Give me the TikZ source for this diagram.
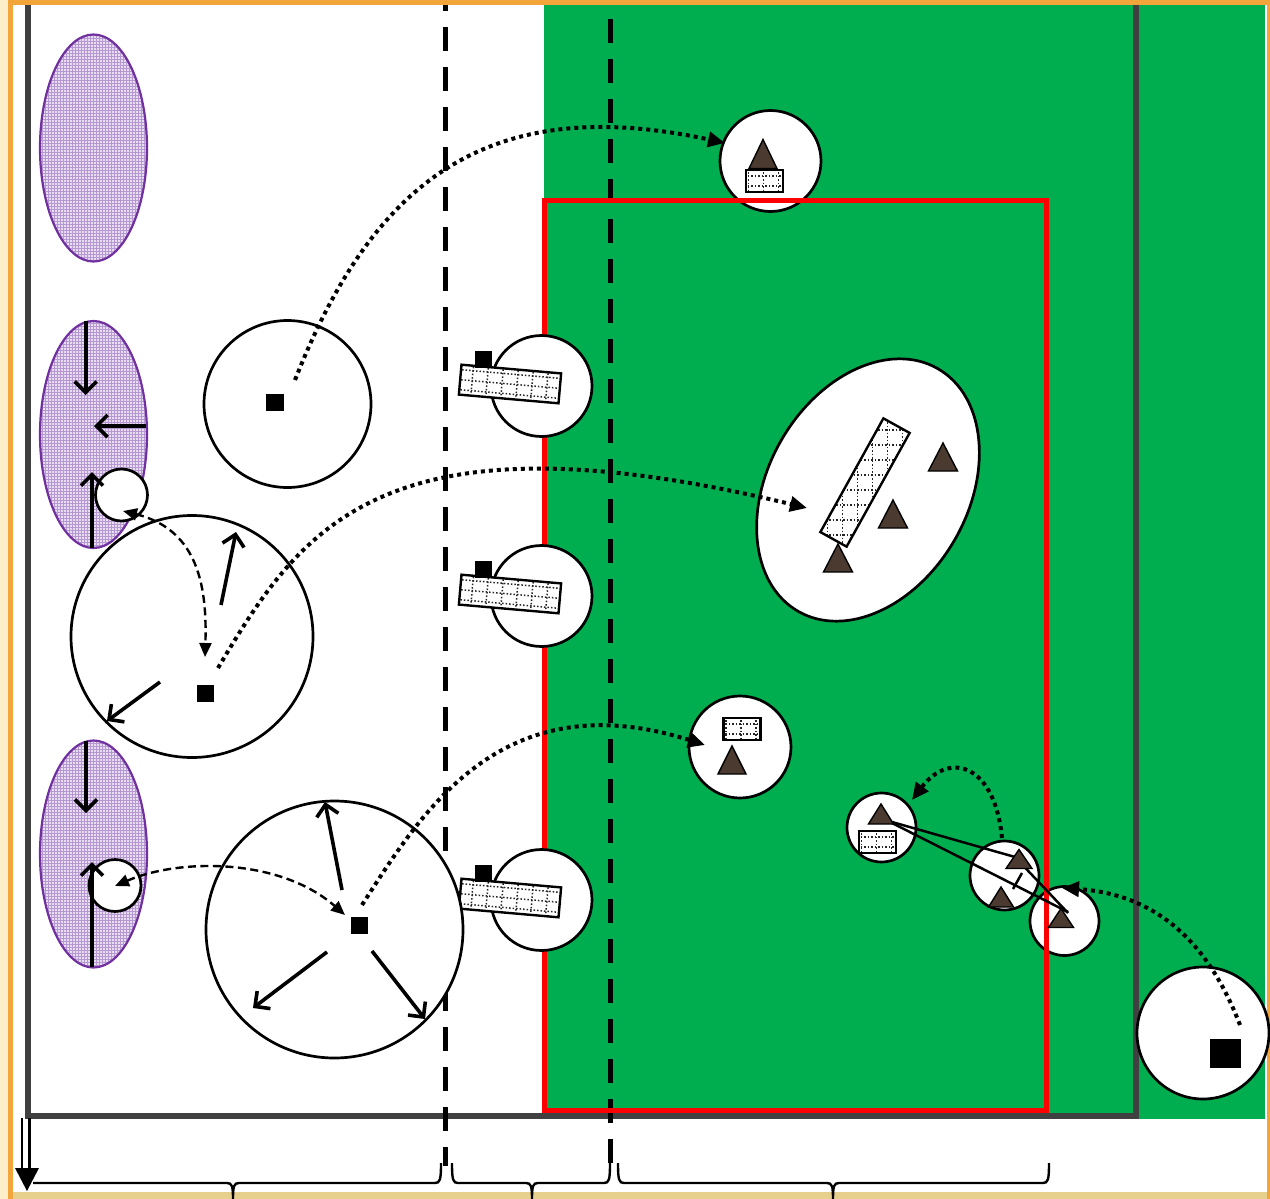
\documentclass[tikz,border=0pt]{standalone}
\usetikzlibrary{arrows.meta,patterns}
\definecolor{grn}{HTML}{00AE4F}
\definecolor{orng}{HTML}{F2A53A}
\definecolor{cream}{HTML}{FDEFC9}
\definecolor{gold}{HTML}{E7CF8E}
\definecolor{gry}{HTML}{404040}
\definecolor{purp}{HTML}{7030A0}
\definecolor{lav}{HTML}{E8DEF3}
\definecolor{tric}{HTML}{4B3A2F}
\definecolor{redc}{HTML}{FF0000}
\tikzset{
 circ/.style={draw=black,line width=2.7pt,fill=white},
 dotarr/.style={line width=4pt,dash pattern=on 4pt off 4pt,-{Triangle[length=17pt,width=15pt]}},
 dasharr/.style={line width=2.4pt,dash pattern=on 8pt off 4.5pt,{Triangle[length=14pt,width=12pt]}-{Triangle[length=14pt,width=12pt]}},
 barb/.style={line width=3.6pt,-{Straight Barb[length=11pt,width=22pt]}},
 bracel/.style={line width=2.4pt},
 gridl/.style={line width=1.5pt,dash pattern=on 1.5pt off 2pt,black!85},
 trist/.style={fill=tric,draw=black,line width=1.4pt},
 vdash/.style={line width=5pt,dash pattern=on 24pt off 16pt},
}
\newcommand\mytri[4]{\filldraw[trist] ({#1},{#2-#4}) -- ({#1+#3},{#2+#4}) -- ({#1-#3},{#2+#4}) -- cycle;}
\newcommand\mysrect[2]{\begin{scope}[shift={(#1,#2)}]
 \fill[white] (-18.5,-11) rectangle (18.5,11);
 \foreach \gx in {-16,-1,14} \draw[gridl] (\gx,-9) -- (\gx,9);
 \foreach \gy in {-5,5} \draw[gridl] (-17,\gy) -- (17,\gy);
 \draw[line width=2.4pt] (-18.5,-11) rectangle (18.5,11);
\end{scope}}
\newcommand\mysiderect[2]{\begin{scope}[shift={(#1,#2)},rotate=-5]
 \fill[white] (-50,-15) rectangle (50,15);
 \foreach \gx in {-38,-23,-8,7,22,37} \draw[gridl] (\gx,-14) -- (\gx,14);
 \foreach \gy in {-10,0,10} \draw[gridl] (-49,\gy) -- (49,\gy);
 \draw[line width=2.4pt] (-50,-15) rectangle (50,15);
\end{scope}}
\newcommand\mybrace[3]{\draw[bracel] (#1,1163) .. controls (#1,1180) and ({#1+1},1183) .. ({#1+6},1183) -- ({#3-6},1183) .. controls ({#3-1},1183) and (#3,1186) .. (#3,1199)
 .. controls (#3,1186) and ({#3+1},1183) .. ({#3+6},1183) -- ({#2-6},1183) .. controls ({#2-1},1183) and (#2,1180) .. (#2,1163);}
\begin{document}
\begin{tikzpicture}[x=1pt,y=-1pt]
\useasboundingbox (0,0) rectangle (1270,1199);
% frame and backgrounds
\fill[cream] (0,0) rectangle (8,1199);
\fill[white] (12,5) rectangle (1267,1192);
\fill[grn] (544,5) rectangle (1265,1118.5);
\fill[orng] (7.5,0) rectangle (12.5,1199);
\fill[orng] (7.5,0) rectangle (1270,5);
\fill[orng] (1267,0) rectangle (1270,1199);
\fill[gold] (12.5,1192) rectangle (1267,1199);
% purple ellipses
\foreach \cy in {148,434.5,854} {
 \fill[lav] (93.5,\cy) ellipse [x radius=53.5,y radius=113.5];
 \fill[pattern=grid,pattern color=purp!50] (93.5,\cy) ellipse [x radius=53.5,y radius=113.5];
 \draw[purp,line width=2.2pt] (93.5,\cy) ellipse [x radius=53.5,y radius=113.5];
}
% gray frame
\draw[gry,line width=6.5pt] (28,5) -- (28,1116) -- (1136,1116) -- (1136,5);
% dashed verticals
\draw[vdash,dash phase=18pt] (445,5) -- (445,1166);
\draw[vdash,dash phase=26pt] (610,5) -- (610,1163);
% circles under the red frame
\filldraw[circ] (770.5,161) circle[radius=50.5];
\mytri{763}{154}{14}{14.5}
\mysrect{764.5}{181}
\filldraw[circ] (1064.5,921) circle[radius=34.5];
% red frame
\draw[redc,line width=5pt] (544.5,200) rectangle (1046,1110);
% circles on the red line
\foreach \cy in {386,596,900} {
 \filldraw[circ] (541.5,\cy) circle[radius=50.5];
 \mysiderect{510}{\cy-2}
 \fill (475,\cy-35.5) rectangle (492,\cy-18.5);
}
% big tilted ellipse
\begin{scope}[shift={(868,490)},rotate=60]
 \filldraw[circ] (0,0) ellipse[x radius=140,y radius=100];
\end{scope}
\begin{scope}[shift={(865,482.5)}]
 \begin{scope}[rotate=61]
  \fill[white] (-65,-15) rectangle (65,15);
  \clip (-65,-15) rectangle (65,15);
  \begin{scope}[rotate=-61]
   \foreach \g in {-82.5,-67.5,...,82.5} {\draw[gridl] (\g,-85) -- (\g,85); \draw[gridl] (-85,\g) -- (85,\g);}
  \end{scope}
 \end{scope}
 \begin{scope}[rotate=61]
  \draw[line width=2.4pt] (-65,-15) rectangle (65,15);
 \end{scope}
\end{scope}
\mytri{943}{457}{14.5}{14}
\mytri{893}{514}{14.5}{14}
\mytri{838}{558}{14.5}{14}
% circle with box and triangle
\filldraw[circ] (740,747) circle[radius=51];
\mysrect{742}{729}
\mytri{732}{760}{14}{14}
% small cluster
\filldraw[circ] (881.5,827.5) circle[radius=34.5];
\filldraw[circ] (1004.5,875.5) circle[radius=34.5];
\mysrect{877.5}{842}
\draw[line width=2.5pt] (892,822) -- (1015,857) -- (1068,913);
\draw[line width=2.5pt] (892,823) -- (1068,912);
\draw[line width=2.5pt] (1022,873) -- (1013,889);
\mytri{881}{814}{12.5}{10}
\mytri{1019}{859}{13}{9.5}
\mytri{1001}{897}{12.5}{10}
\mytri{1061}{918}{12.5}{9.5}
% bottom right circle
\filldraw[circ] (1203,1033) circle[radius=66];
\fill (1210,1039) rectangle (1241,1068);
% left circles
\filldraw[circ] (287.5,404) circle[radius=83.5];
\fill (266,394) rectangle (284,411);
\filldraw[circ] (192,636.5) circle[radius=121];
\fill (196.5,684.5) rectangle (213.5,701.5);
\filldraw[circ] (334.5,929.5) circle[radius=128.5];
\fill (350.5,916.5) rectangle (367.5,933.5);
\filldraw[circ] (121.5,495) circle[radius=26];
\filldraw[circ] (115,885.5) circle[radius=26];
% solid arrows
\draw[barb] (85.7,321) -- (85.7,395);
\draw[barb] (146,426) -- (94,426);
\draw[barb] (92,548) -- (92,472);
\draw[barb] (86,741) -- (86,813);
\draw[barb] (92,967) -- (92,862);
\draw[barb] (221,605) -- (236,532);
\draw[barb] (160,682) -- (107,721);
\draw[barb] (342,890) -- (325,802);
\draw[barb] (327,952) -- (253,1008);
\draw[barb] (372,951) -- (425,1019);
% dashed double arrows
\coordinate (s1) at (123,511); \coordinate (e1) at (205,657);
\draw[dasharr] (s1) .. controls (200,530) and (207,590) .. (e1);
\coordinate (s2) at (115,886); \coordinate (e2) at (345,915);
\draw[dasharr] (s2) .. controls (180,858) and (280,858) .. (e2);
% dotted arrows
\coordinate (d1s) at (295,380); \coordinate (d1e) at (725,143);
\draw[dotarr] (d1s) .. controls (370,190) and (480,90) .. (d1e);
\coordinate (d2s) at (218,668); \coordinate (d2e) at (807,508);
\draw[dotarr] (d2s) .. controls (300,530) and (380,405) .. (d2e);
\coordinate (d3s) at (362,905); \coordinate (d3e) at (705,745);
\draw[dotarr] (d3s) .. controls (420,815) and (500,680) .. (d3e);
\coordinate (d4s) at (1002,838); \coordinate (d4e) at (912,800);
\draw[dotarr] (d4s) .. controls (995,765) and (950,750) .. (d4e);
\coordinate (d5s) at (1240,1025); \coordinate (d5e) at (1062,888);
\draw[dotarr] (d5s) .. controls (1215,960) and (1170,895) .. (d5e);
% bottom arrow and braces
\draw[line width=2.4pt] (22,1118) -- (22,1170);
\draw[line width=2.4pt] (29.5,1118) -- (29.5,1170);
\fill (15,1168) -- (39,1168) -- (27,1191) -- cycle;
\draw[bracel] (33,1183) -- (227,1183) .. controls (232,1183) and (233,1186) .. (233,1199)
 .. controls (233,1186) and (234,1183) .. (239,1183) -- (435,1183) .. controls (440,1183) and (441,1180) .. (441,1163);
\mybrace{452}{610}{532}
\mybrace{618}{1049}{833}
\end{tikzpicture}
\end{document}
